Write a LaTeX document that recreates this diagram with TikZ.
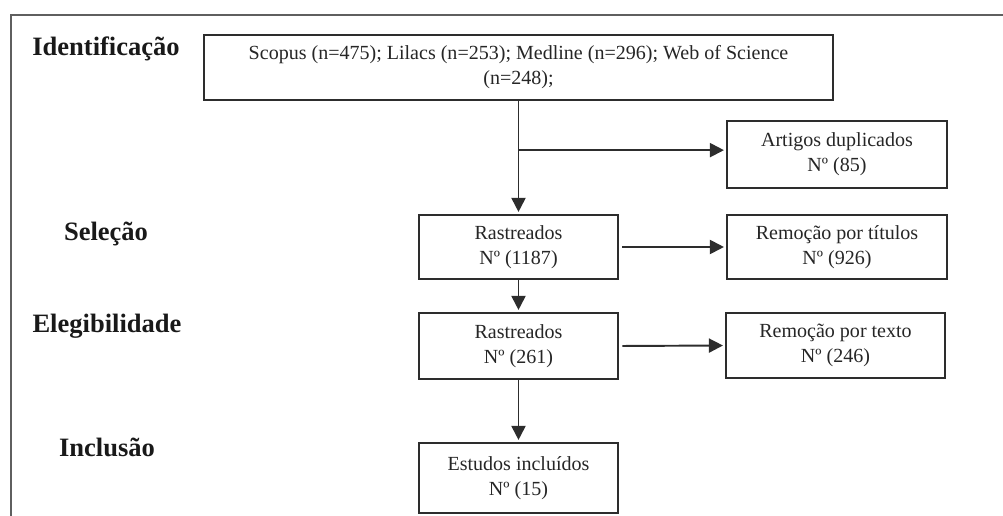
\documentclass[tikz,border=0pt]{standalone}
\usepackage{fontspec}
\setmainfont{Liberation Serif}
\usetikzlibrary{arrows.meta}
\usetikzlibrary{calc}

\begin{document}
\begin{tikzpicture}[x=0.02cm,y=-0.02cm,
    box/.style={
      draw=boxline,
      line width=1.1pt,
      fill=white,
      text=black!85,
      align=center,
      inner sep=2pt,
      font=\fontsize{11.4}{14.2}\selectfont
    },
    stage/.style={anchor=base,text=black!90,font=\fontsize{15.1}{18}\selectfont\bfseries},
    flow/.style={-{Triangle[length=8pt,width=8pt]},line width=1.1pt,draw=boxline,shorten >=1.2pt}]
\definecolor{boxline}{RGB}{45,45,45}
\definecolor{frameline}{RGB}{95,95,95}

\useasboundingbox (0,0) rectangle (1003,516);
\draw[frameline,line width=1.1pt] (1003,15) -- (11,15) -- (11,516);

% stage labels
\node[stage] (idf) at (106,56) {Identificação};
\node[stage] (sel) at (106,241) {Seleção};
\node[stage] (ele) at (107,333) {Elegibilidade};
\node[stage] (inc) at (107,456) {Inclusão};

% boxes
\node[box, minimum width=12.58cm, minimum height=1.3cm] (src) at (518.5,67.5) {Scopus (n=475); Lilacs (n=253); Medline (n=296); Web of Science\\(n=248);};
\node[box, minimum width=4.4cm, minimum height=1.34cm] (dup) at (837,154.5) {Artigos duplicados\\Nº (85)};

\node[box, minimum width=3.98cm, minimum height=1.28cm] (ras1) at (518.5,247) {Rastreados\\Nº (1187)};
\node[box, minimum width=4.4cm, minimum height=1.28cm] (tit) at (837,247) {Remoção por títulos\\Nº (926)};

\node[box, minimum width=3.98cm, minimum height=1.32cm] (ras2) at (518.5,346) {Rastreados\\Nº (261)};
\node[box, minimum width=4.38cm, minimum height=1.3cm] (txt) at (835.5,345.5) {Remoção por texto\\Nº (246)};

\node[box, minimum width=3.98cm, minimum height=1.4cm] (est) at (518.5,478) {Estudos incluídos\\Nº (15)};

% connectors
\draw[flow] (src.south) -- (ras1.north);
\coordinate (split) at ($(src.south)!0.435!(ras1.north)$);
\draw[flow] (split) -- (split -| dup.west);
\draw[flow,shorten <=2pt] (ras1.east) -- (tit.west);
\draw[flow] (ras1.south) -- (ras2.north);
\draw[flow,shorten <=2pt] (ras2.east) -- (txt.west);
\draw[flow] (ras2.south) -- (est.north);

\end{tikzpicture}
\end{document}
